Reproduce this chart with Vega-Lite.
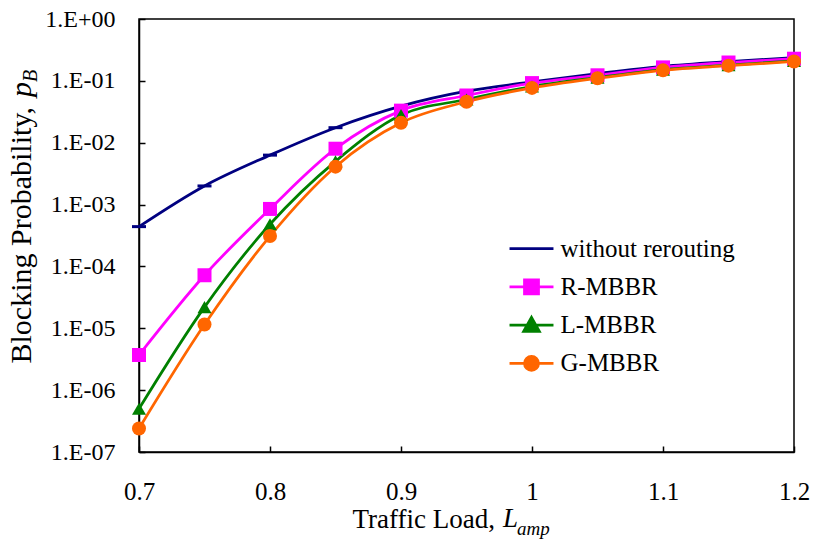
{
  "$schema": "https://vega.github.io/schema/vega-lite/v6.json",
  "autosize": {"type": "none"},
  "width": 655,
  "height": 433,
  "padding": {"left": 139, "top": 19, "right": 19, "bottom": 93},
  "background": "white",
  "config": {
    "font": "Liberation Serif",
    "view": {"stroke": "black", "strokeWidth": 1.5},
    "axis": {
      "grid": false,
      "labelFont": "Liberation Serif",
      "labelFontSize": 24,
      "labelColor": "black",
      "titleFont": "Liberation Serif",
      "titleFontWeight": "normal",
      "titleColor": "black",
      "domainColor": "black",
      "domainWidth": 1.5,
      "tickColor": "black",
      "tickWidth": 1.5,
      "tickSize": -6
    }
  },
  "data": {
    "values": [
      {"series": "without rerouting", "load": 0.7, "pb": 0.00044},
      {"series": "without rerouting", "load": 0.75, "pb": 0.0020},
      {"series": "without rerouting", "load": 0.8, "pb": 0.0063},
      {"series": "without rerouting", "load": 0.85, "pb": 0.0175},
      {"series": "without rerouting", "load": 0.9, "pb": 0.039},
      {"series": "without rerouting", "load": 0.95, "pb": 0.068},
      {"series": "without rerouting", "load": 1.0, "pb": 0.096},
      {"series": "without rerouting", "load": 1.05, "pb": 0.131},
      {"series": "without rerouting", "load": 1.1, "pb": 0.172},
      {"series": "without rerouting", "load": 1.15, "pb": 0.205},
      {"series": "without rerouting", "load": 1.2, "pb": 0.237},
      {"series": "R-MBBR", "load": 0.7, "pb": 0.0000037},
      {"series": "R-MBBR", "load": 0.75, "pb": 0.000072},
      {"series": "R-MBBR", "load": 0.8, "pb": 0.00085},
      {"series": "R-MBBR", "load": 0.85, "pb": 0.0080},
      {"series": "R-MBBR", "load": 0.9, "pb": 0.033},
      {"series": "R-MBBR", "load": 0.95, "pb": 0.058},
      {"series": "R-MBBR", "load": 1.0, "pb": 0.092},
      {"series": "R-MBBR", "load": 1.05, "pb": 0.123},
      {"series": "R-MBBR", "load": 1.1, "pb": 0.165},
      {"series": "R-MBBR", "load": 1.15, "pb": 0.198},
      {"series": "R-MBBR", "load": 1.2, "pb": 0.228},
      {"series": "L-MBBR", "load": 0.7, "pb": 0.00000050},
      {"series": "L-MBBR", "load": 0.75, "pb": 0.000022},
      {"series": "L-MBBR", "load": 0.8, "pb": 0.00048},
      {"series": "L-MBBR", "load": 0.85, "pb": 0.0050},
      {"series": "L-MBBR", "load": 0.9, "pb": 0.028},
      {"series": "L-MBBR", "load": 0.95, "pb": 0.050},
      {"series": "L-MBBR", "load": 1.0, "pb": 0.081},
      {"series": "L-MBBR", "load": 1.05, "pb": 0.113},
      {"series": "L-MBBR", "load": 1.1, "pb": 0.152},
      {"series": "L-MBBR", "load": 1.15, "pb": 0.180},
      {"series": "L-MBBR", "load": 1.2, "pb": 0.210},
      {"series": "G-MBBR", "load": 0.7, "pb": 0.00000024},
      {"series": "G-MBBR", "load": 0.75, "pb": 0.0000115},
      {"series": "G-MBBR", "load": 0.8, "pb": 0.00031},
      {"series": "G-MBBR", "load": 0.85, "pb": 0.0041},
      {"series": "G-MBBR", "load": 0.9, "pb": 0.021},
      {"series": "G-MBBR", "load": 0.95, "pb": 0.046},
      {"series": "G-MBBR", "load": 1.0, "pb": 0.077},
      {"series": "G-MBBR", "load": 1.05, "pb": 0.110},
      {"series": "G-MBBR", "load": 1.1, "pb": 0.148},
      {"series": "G-MBBR", "load": 1.15, "pb": 0.176},
      {"series": "G-MBBR", "load": 1.2, "pb": 0.206}
    ]
  },
  "layer": [
    {
      "mark": {"type": "line", "interpolate": "monotone", "strokeWidth": 2.75},
      "encoding": {
        "x": {
          "field": "load",
          "type": "quantitative",
          "scale": {"domain": [0.7, 1.2], "nice": false, "zero": false},
          "axis": {
            "values": [0.7, 0.8, 0.9, 1, 1.1, 1.2],
            "labelExpr": "format(datum.value, '~g')",
            "labelFlush": false,
            "labelFontSize": 25,
            "labelPadding": 33,
            "title": "Traffic Load,",
            "titleFontSize": 27,
            "titleAlign": "left",
            "titleBaseline": "alphabetic",
            "titleAngle": 0,
            "titleX": 213,
            "titleY": 75
          }
        },
        "y": {
          "field": "pb",
          "type": "quantitative",
          "scale": {"type": "log", "domain": [1e-7, 1], "nice": false},
          "axis": {
            "values": [1e-7, 1e-6, 1e-5, 1e-4, 1e-3, 1e-2, 1e-1, 1],
            "labelExpr": "datum.value >= 1 ? '1.E+00' : '1.E-0' + format(-log(datum.value) / LN10, '.0f')",
            "labelFlush": false,
            "labelPadding": 30,
            "title": "Blocking Probability,",
            "titleFontSize": 30,
            "titleAngle": 270,
            "titleAlign": "left",
            "titleBaseline": "alphabetic",
            "titleX": -108.5,
            "titleY": 344
          }
        },
        "color": {
          "field": "series",
          "type": "nominal",
          "sort": ["without rerouting", "R-MBBR", "L-MBBR", "G-MBBR"],
          "scale": {
            "domain": ["without rerouting", "R-MBBR", "L-MBBR", "G-MBBR"],
            "range": ["#000080", "#FF00FF", "#008000", "#FF6600"]
          },
          "legend": {
            "title": null,
            "orient": "none",
            "legendX": 377,
            "legendY": 214,
            "padding": 0,
            "symbolSize": 784,
            "symbolStrokeWidth": 2.75,
            "rowPadding": 9.3,
            "labelOffset": 13.5,
            "labelFont": "Liberation Serif",
            "labelFontSize": 25,
            "labelColor": "black",
            "labelLimit": 400,
            "encode": {
              "symbols": {
                "update": {
                  "shape": {"signal": "datum.value === 'R-MBBR' ? 'M-1.57,0H1.57M-0.5,-0.5H0.5V0.5H-0.5Z' : datum.value === 'L-MBBR' ? 'M-1.57,0H1.57M0,-0.55L0.56,0.45L-0.56,0.45Z' : datum.value === 'G-MBBR' ? 'M-1.57,0H1.57M0.5,0C0.5,0.276,0.276,0.5,0,0.5C-0.276,0.5,-0.5,0.276,-0.5,0C-0.5,-0.276,-0.276,-0.5,0,-0.5C0.276,-0.5,0.5,-0.276,0.5,0Z' : 'M-1.57,0H1.57M-0.4,0H0.4'"},
                  "fill": {"scale": "color", "field": "value"},
                  "stroke": {"scale": "color", "field": "value"},
                  "strokeWidth": {"value": 2.75},
                  "opacity": {"value": 1}
                }
              }
            }
          }
        }
      }
    },
    {
      "transform": [{"filter": "datum.series === 'without rerouting'"}],
      "mark": {"type": "point", "shape": "stroke", "filled": false, "size": 196, "strokeWidth": 3, "opacity": 1},
      "encoding": {
        "x": {"field": "load", "type": "quantitative"},
        "y": {"field": "pb", "type": "quantitative"},
        "color": {"field": "series", "type": "nominal", "legend": null}
      }
    },
    {
      "transform": [{"filter": "datum.series !== 'without rerouting'"}],
      "mark": {"type": "point", "filled": true, "size": 196, "opacity": 1},
      "encoding": {
        "x": {"field": "load", "type": "quantitative"},
        "y": {"field": "pb", "type": "quantitative"},
        "color": {"field": "series", "type": "nominal", "legend": null},
        "shape": {
          "field": "series",
          "type": "nominal",
          "scale": {
            "domain": ["R-MBBR", "L-MBBR", "G-MBBR"],
            "range": ["square", "triangle-up", "circle"]
          },
          "legend": null
        }
      }
    },
    {
      "data": {"values": [{"symbol": "L"}]},
      "mark": {"type": "text", "font": "Liberation Serif", "fontSize": 27, "fontStyle": "italic", "align": "left", "baseline": "alphabetic", "dx": 364, "dy": 75, "fill": "black"},
      "encoding": {
        "x": {"datum": 0.7, "type": "quantitative"},
        "y": {"datum": 1e-7, "type": "quantitative"},
        "text": {"field": "symbol", "type": "nominal"}
      }
    },
    {
      "data": {"values": [{"symbol": "amp"}]},
      "mark": {"type": "text", "font": "Liberation Serif", "fontSize": 19, "fontStyle": "italic", "align": "left", "baseline": "alphabetic", "dx": 378, "dy": 83, "fill": "black"},
      "encoding": {
        "x": {"datum": 0.7, "type": "quantitative"},
        "y": {"datum": 1e-7, "type": "quantitative"},
        "text": {"field": "symbol", "type": "nominal"}
      }
    },
    {
      "data": {"values": [{"symbol": "p"}]},
      "mark": {"type": "text", "font": "Liberation Serif", "fontSize": 30, "fontStyle": "italic", "align": "left", "baseline": "alphabetic", "angle": 270, "dx": -78, "dy": -108.5, "fill": "black"},
      "encoding": {
        "x": {"datum": 0.7, "type": "quantitative"},
        "y": {"datum": 1, "type": "quantitative"},
        "text": {"field": "symbol", "type": "nominal"}
      }
    },
    {
      "data": {"values": [{"symbol": "B"}]},
      "mark": {"type": "text", "font": "Liberation Serif", "fontSize": 20, "fontStyle": "italic", "align": "left", "baseline": "alphabetic", "angle": 270, "dx": -63, "dy": -102.5, "fill": "black"},
      "encoding": {
        "x": {"datum": 0.7, "type": "quantitative"},
        "y": {"datum": 1, "type": "quantitative"},
        "text": {"field": "symbol", "type": "nominal"}
      }
    }
  ]
}
